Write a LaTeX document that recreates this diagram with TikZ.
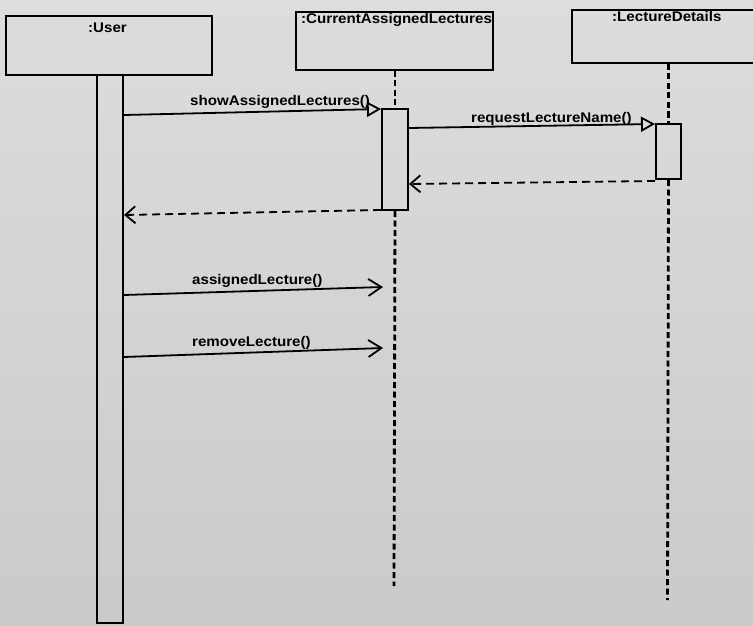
\documentclass[tikz,border=0pt]{standalone}
\usepackage{fontspec}
\setmainfont{Liberation Sans}
\newfontfamily\seqfont[FakeStretch=1.08]{Liberation Sans}
\usetikzlibrary{arrows.meta,calc}

\begin{document}
\begin{tikzpicture}[x=1pt,y=-1pt,
  objbox/.style={draw, line width=2pt, rectangle, inner sep=0pt, anchor=north west},
  actbar/.style={draw, line width=2pt, rectangle, inner sep=0pt, anchor=north west},
  objname/.style={font=\seqfont\bfseries\fontsize{14}{16}\selectfont, anchor=base west, inner sep=0pt},
  msgtext/.style={font=\seqfont\bfseries\fontsize{14}{16}\selectfont, anchor=base west, inner sep=0pt},
  lifeline/.style={line width=2.8pt, dash pattern=on 6pt off 3.5pt},
  call/.style={line width=1.8pt, -{Triangle[open, length=14pt, width=15pt, line width=1.8pt]}},
  send/.style={line width=1.8pt, -{Straight Barb[length=13pt, width=17pt, line width=1.8pt]}},
  reply/.style={line width=1.8pt, dash pattern=on 8pt off 5pt, -{Straight Barb[length=10pt, width=17pt, line width=1.8pt]}},
]
% page and background
\useasboundingbox (0,0) rectangle (753,626);
\fill[top color={rgb,255:red,221;green,221;blue,221}, bottom color={rgb,255:red,201;green,202;blue,202}] (0,0) rectangle (753,626);

% object boxes
\node[objbox, minimum width=206pt, minimum height=59pt] (user) at (5,15) {};
\node[objbox, minimum width=197pt, minimum height=58pt] (cal) at (295,11) {};
\node[objbox, minimum width=183pt, minimum height=53pt] (ld) at (571,9) {};
\node[objname] (usern) at (88,33) {:User};
\node[objname] (caln) at (301,24) {:CurrentAssignedLectures};
\node[objname] (ldn) at (612,22) {:LectureDetails};

% activation bars
\node[actbar, minimum width=26pt, minimum height=548pt] (ubar) at (96,74) {};
\node[actbar, minimum width=26pt, minimum height=101pt] (cbar) at (381,108) {};
\node[actbar, minimum width=25pt, minimum height=55pt] (lbar) at (655,123) {};

% lifelines
\coordinate (calend) at (394,586);
\coordinate (ldend) at (667.5,600);
\draw[lifeline] (cbar.north |- cal.south) -- (cbar.north);
\draw[lifeline] (cbar.south) -- (calend);
\draw[lifeline] (lbar.north |- ld.south) -- (lbar.north);
\draw[lifeline] (lbar.south) -- (ldend);

% messages
\draw[call] ($(ubar.north east)+(0,41)$) -- ($(cbar.north west)+(0,1)$);
\node[msgtext] (m1) at (190,106) {showAssignedLectures()};

\draw[call] ($(cbar.north east)+(0,20)$) -- ($(lbar.north west)+(0,1)$);
\node[msgtext] (m2) at (471,122) {requestLectureName()};

\draw[reply] ($(lbar.south west)+(0,1)$) -- ($(cbar.north east)+(0,76)$);
\draw[reply] ($(cbar.south west)+(0,-1)$) -- ($(ubar.north east)+(0,141)$);

\coordinate (t5) at (383,287);
\coordinate (t6) at (383,348);
\draw[send] ($(ubar.north east)+(0,221)$) -- (t5);
\node[msgtext] (m5) at (192,284) {assignedLecture()};
\draw[send] ($(ubar.north east)+(0,283)$) -- (t6);
\node[msgtext] (m6) at (192,346) {removeLecture()};
\end{tikzpicture}
\end{document}
